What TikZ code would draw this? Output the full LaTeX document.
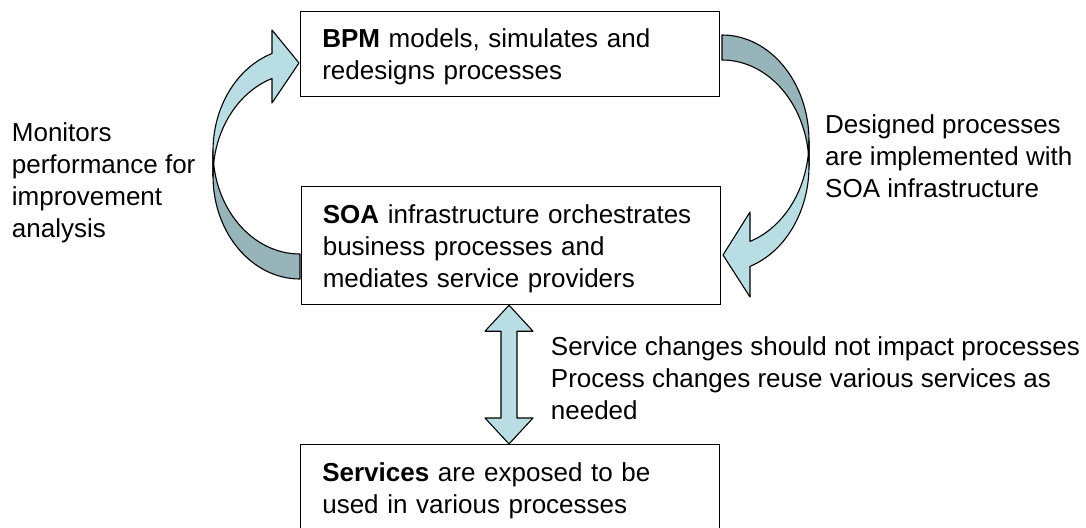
\documentclass[tikz,border=0pt]{standalone}
\usepackage{fontspec}
\setmainfont{Liberation Sans}
\usetikzlibrary{calc}
\definecolor{arrowlight}{RGB}{184,222,228}
\definecolor{arrowdark}{RGB}{150,180,186}
\newcommand{\firstline}{\rule{0pt}{24.3pt}}
\begin{document}
\begin{tikzpicture}[x=1pt,y=-1pt,
  txt/.style={font=\fontsize{26}{32}\selectfont, inner sep=0pt, align=left},
  procbox/.style={txt, draw=black, line width=1.2pt, anchor=north west,
    text width=375.6pt, inner xsep=21.7pt, inner ysep=0pt, minimum height=#1},
  lightface/.style={fill=arrowlight, draw=black, line width=1.1pt, line join=round},
  darkface/.style={fill=arrowdark, draw=black, line width=1.1pt, line join=round}]
\useasboundingbox (0,0) rectangle (1086,527);
\fill[white] (0,0) rectangle (1086,527);

% boxes
\node[procbox=85pt] (bpm) at (300,11)
  {\firstline\textbf{BPM} models, simulates and\\redesigns processes};
\node[procbox=118pt] (soa) at (300.5,186)
  {\firstline\textbf{SOA} infrastructure orchestrates\\business processes and\\mediates service providers};
\node[procbox=86pt] (svc) at (300,444)
  {\firstline\textbf{Services} are exposed to be\\used in various processes};

% side labels
\node[txt, anchor=north west] (monitor) at (11.7,117.4)
  {\firstline Monitors\\performance for\\improvement\\analysis};
\node[txt, anchor=north west] (design) at (825,108.7)
  {\firstline Designed processes\\are implemented with\\SOA infrastructure};
\node[txt, anchor=north west] (change) at (550.7,330.7)
  {\firstline Service changes should not impact processes\\Process changes reuse various services as\\needed};

% left curved arrow (SOA -> BPM)
\path[darkface] (213,176) arc[start angle=180, end angle=90, x radius=87, y radius=103]
  -- (300,254) arc[start angle=90, end angle=180, x radius=87, y radius=103] -- cycle;
\path[lightface] (213,151) arc[start angle=180, end angle=251.23, x radius=87, y radius=103]
  -- (272,30) -- (299,63) -- (272,103) -- (272,78.5)
  arc[start angle=251.23, end angle=180, x radius=87, y radius=103] -- cycle;

% right curved arrow (BPM -> SOA)
\path[darkface] (809,141) arc[start angle=0, end angle=-90, x radius=87, y radius=106]
  -- (722,60) arc[start angle=-90, end angle=0, x radius=87, y radius=106] -- cycle;
\path[lightface] (809,166) arc[start angle=0, end angle=71.23, x radius=87, y radius=106]
  -- (750,297) -- (723,255) -- (750,212) -- (750,241.4)
  arc[start angle=71.23, end angle=0, x radius=87, y radius=106] -- cycle;

% double arrow between SOA and Services
\coordinate (dat) at ([xshift=208.5pt]soa.south west);
\coordinate (dab) at ([xshift=209pt]svc.north west);
\path[lightface] (dat) -- ++(24,26) -- ++(-16,0) -- ($(dab)+(8,-26)$) -- ++(16,0)
  -- (dab) -- ++(-24,-26) -- ++(16,0) -- ($(dat)+(-8,26)$) -- ++(-16,0) -- cycle;
\end{tikzpicture}
\end{document}
